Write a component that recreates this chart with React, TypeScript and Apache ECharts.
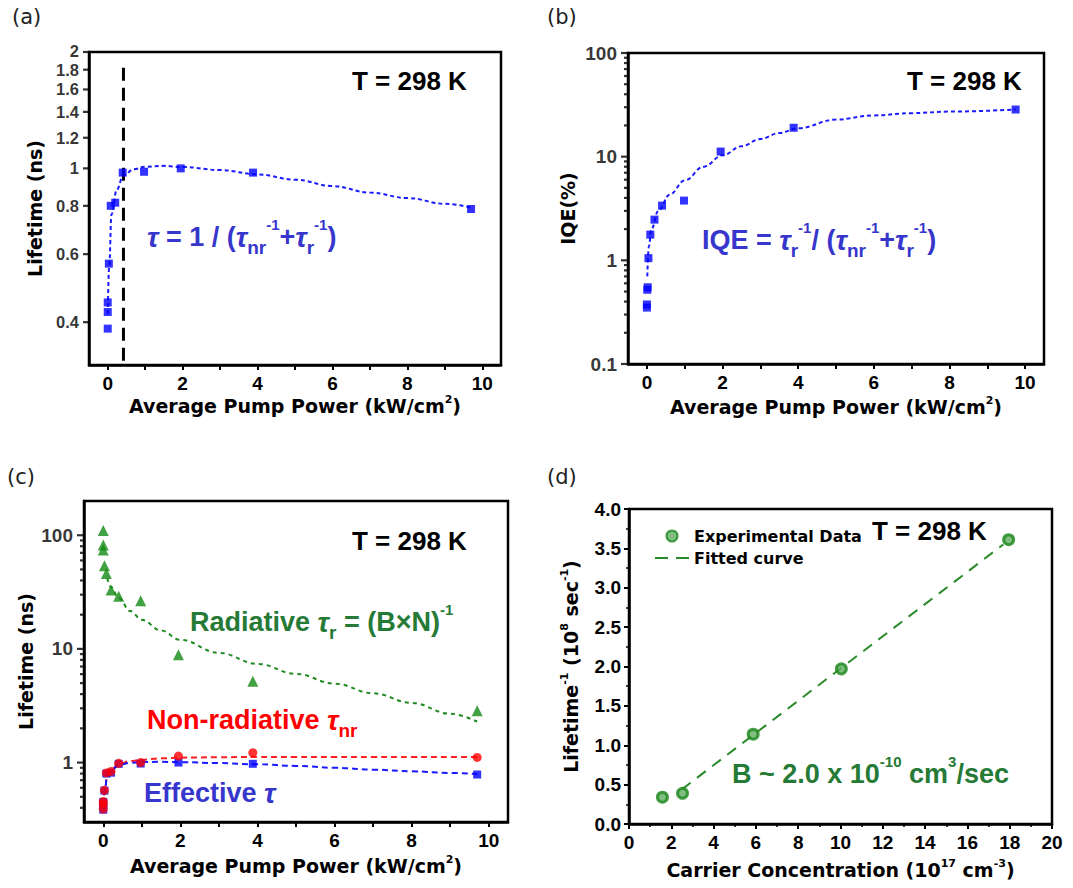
import React, { useEffect, useRef } from 'react';
import * as echarts from 'echarts';

// ---------- Panel (a): effective lifetime ----------
const tauX = [0, 0, 0, 0.03, 0.08, 0.2, 0.4, 0.97, 1.95, 3.88, 9.7];
const tauY = [0.385, 0.425, 0.45, 0.567, 0.8, 0.815, 0.975, 0.98, 1.0, 0.975, 0.785];
const tauFitX = [0, 0.04, 0.1, 0.24, 0.42, 0.7, 1.0, 1.5, 2, 3, 4, 5, 6, 7, 8, 9, 9.7];
const tauFitY = [0.42, 0.56, 0.76, 0.88, 0.96, 0.995, 1.01, 1.015, 1.008, 0.99, 0.965, 0.935, 0.9, 0.866, 0.838, 0.81, 0.792];
const vLineX = [0.42, 0.42];
const vLineY = [0.318, 1.84];
const yTicksA = [0.4, 0.6, 0.8, 1, 1.2, 1.4, 1.6, 1.8, 2];

// ---------- Panel (b): IQE ----------
const iqeX = [0, 0, 0.01, 0.02, 0.04, 0.09, 0.2, 0.4, 0.98, 1.95, 3.88, 9.75];
const iqeY = [0.35, 0.375, 0.52, 0.55, 1.05, 1.77, 2.47, 3.37, 3.77, 11.2, 19.0, 28.5];
const iqeFitX = [0.01, 0.05, 0.12, 0.3, 0.6, 1.0, 1.5, 2.0, 2.5, 3.0, 3.5, 4.0, 5.0, 6.0, 7.0, 8.0, 9.75];
const iqeFitY = [0.7, 1.35, 2.0, 3.0, 4.3, 5.9, 8.0, 10.3, 12.6, 14.8, 16.9, 18.8, 22.8, 25.0, 26.3, 27.2, 28.5];
const yMajorB = [0.1, 1, 10, 100];
const yMinorB = [0.2, 0.3, 0.4, 0.5, 0.6, 0.7, 0.8, 0.9, 2, 3, 4, 5, 6, 7, 8, 9, 20, 30, 40, 50, 60, 70, 80, 90];

// ---------- Panel (c): radiative / non-radiative / effective ----------
const radY = [110, 82, 74, 54, 46, 33, 29, 26.5, 8.9, 5.2, 2.85];
const nrY = [0.39, 0.43, 0.455, 0.57, 0.81, 0.835, 0.985, 1.0, 1.14, 1.22, 1.11];
const radFitX = [0.1, 0.2, 0.4, 0.7, 1.0, 1.5, 2, 3, 4, 5, 6, 7, 8, 9, 9.7];
const radFitY = [42, 35, 28, 21.5, 18, 14.5, 12.0, 9.23, 7.38, 6.03, 4.95, 4.07, 3.35, 2.69, 2.29];
const nrFitX = [0, 0.04, 0.1, 0.24, 0.42, 0.7, 1.0, 1.5, 2, 3, 4, 5, 6, 7, 8, 9, 9.7];
const nrFitY = [0.42, 0.56, 0.77, 0.89, 0.98, 1.03, 1.06, 1.09, 1.105, 1.115, 1.12, 1.122, 1.122, 1.122, 1.12, 1.12, 1.12];
const yMajorC = [1, 10, 100];
const yMinorC = [0.4, 0.5, 0.6, 0.7, 0.8, 0.9, 2, 3, 4, 5, 6, 7, 8, 9, 20, 30, 40, 50, 60, 70, 80, 90];

// ---------- Panel (d): 1/tau vs carrier concentration ----------
const carrierN = [1.58, 2.53, 5.87, 10.04, 17.95];
const invTau = [0.34, 0.39, 1.14, 1.97, 3.61];
const fitN = [2.5, 17.7];
const fitInv = [0.44, 3.55];

// shared x ticks for pump power
const xTicks = [0, 1, 2, 3, 4, 5, 6, 7, 8, 9, 10];
const xLabels = [0, 2, 4, 6, 8, 10];

const AX = "'Liberation Sans', Arial, Helvetica, sans-serif";
const DV = "'DejaVu Sans', Verdana, sans-serif";

const BLUE_PT = '#0000ff';
const BLUE_TXT = '#3636cc';
const RED = '#ff0000';
const GREEN_PT = '#138a13';
const GREEN_TXT = '#257a35';

const zip = (xs: number[], ys: number[]) => xs.map((x, i) => [x, ys[i]]);

const labelFont = { fontFamily: AX, fontWeight: 'bold', fontSize: 19, color: '#000' };
const titleStyle = {
  fontFamily: DV,
  fontWeight: 'bold',
  fontSize: 19,
  color: '#000',
  lineHeight: 24,
  rich: {
    sup: { fontFamily: DV, fontWeight: 'bold', fontSize: 11, color: '#000', lineHeight: 18, verticalAlign: 'top' },
  },
};

const axisLine = { onZero: false, lineStyle: { color: '#000', width: 2.5 } };

const xPump = (gi: number, nameGap: number) => ({
  gridIndex: gi,
  type: 'value',
  min: -0.5,
  max: 10.5,
  axisLine,
  axisTick: { customValues: xTicks, length: 5, lineStyle: { color: '#000', width: 2 } },
  axisLabel: { customValues: xLabels, formatter: (v: number) => String(v), margin: 9, ...labelFont },
  splitLine: { show: false },
  name: 'Average Pump Power (kW/cm{sup|2})',
  nameLocation: 'middle',
  nameGap,
  nameMoveOverlap: false,
  nameTextStyle: titleStyle,
});

const yLog = (gi: number, min: number, max: number, name: string, nameGap: number) => ({
  gridIndex: gi,
  type: 'log',
  logBase: 10,
  min,
  max,
  axisLine,
  axisTick: { show: false },
  axisLabel: { show: false },
  minorTick: { show: false },
  splitLine: { show: false },
  minorSplitLine: { show: false },
  name,
  nameLocation: 'middle',
  nameGap,
  nameMoveOverlap: false,
  nameTextStyle: titleStyle,
});

const tickSeries = (
  gi: number,
  xMin: number,
  values: number[],
  len: number,
  withLabel: boolean,
  fontSize = 19,
  topNudge = 0
) => ({
  type: 'scatter',
  xAxisIndex: gi,
  yAxisIndex: gi,
  silent: true,
  clip: false,
  symbol: 'rect',
  symbolSize: [len, 2.2],
  symbolOffset: [-len / 2, 0],
  itemStyle: { color: '#000' },
  label: withLabel
    ? {
        show: true,
        position: 'left',
        distance: 4,
        formatter: (p: any) => String(p.value[1]),
        ...labelFont,
        fontSize,
        lineHeight: fontSize - 2,
      }
    : { show: false },
  emphasis: { disabled: true },
  data: values.map((v, i) =>
    i === values.length - 1 && topNudge
      ? { value: [xMin, v], label: { offset: [0, -topNudge] } }
      : { value: [xMin, v] }
  ),
  z: 5,
});

const fitLine = (gi: number, xs: number[], ys: number[], color: string, dash: number[]) => ({
  type: 'line',
  xAxisIndex: gi,
  yAxisIndex: gi,
  data: zip(xs, ys),
  smooth: 0.4,
  smoothMonotone: 'x',
  symbol: 'none',
  silent: true,
  lineStyle: { color, width: 2, type: dash },
  z: 2,
});

const pts = (gi: number, xs: number[], ys: number[], symbol: string, size: number, color: string) => ({
  type: 'scatter',
  xAxisIndex: gi,
  yAxisIndex: gi,
  data: zip(xs, ys),
  symbol,
  symbolSize: size,
  itemStyle: { color },
  silent: true,
  z: 3,
});

const formulaRich = (color: string) => ({
  t: { fontFamily: AX, fontStyle: 'italic', fontWeight: 'bold', fontSize: 28, fill: color, lineHeight: 40 },
  sub: { fontFamily: AX, fontWeight: 'bold', fontSize: 19, fill: color, lineHeight: 22, verticalAlign: 'bottom' },
  sup: { fontFamily: AX, fontWeight: 'bold', fontSize: 15, fill: color, lineHeight: 29, verticalAlign: 'top' },
});

const richText = (x: number, y: number, text: string, color: string) => ({
  type: 'text',
  x,
  y,
  silent: true,
  style: {
    text,
    fill: color,
    fontFamily: AX,
    fontWeight: 'bold',
    fontSize: 27,
    lineHeight: 40,
    align: 'left',
    verticalAlign: 'middle',
    rich: formulaRich(color),
  },
});

const plainText = (x: number, y: number, text: string, size: number, color: string, family: string, weight: string) => ({
  type: 'text',
  x,
  y,
  silent: true,
  style: { text, fill: color, fontFamily: family, fontWeight: weight, fontSize: size, align: 'left', verticalAlign: 'middle' },
});

const option: any = {
  animation: false,
  backgroundColor: '#fff',
  grid: [
    { left: 89, top: 52, width: 412, height: 313, show: true, borderColor: '#000', borderWidth: 2.5, outerBoundsMode: 'none' },
    { left: 628, top: 53, width: 416, height: 311, show: true, borderColor: '#000', borderWidth: 2.5, outerBoundsMode: 'none' },
    { left: 84, top: 501, width: 424, height: 321, show: true, borderColor: '#000', borderWidth: 2.5, outerBoundsMode: 'none' },
    { left: 629, top: 509, width: 423, height: 315, show: true, borderColor: '#000', borderWidth: 2.5, outerBoundsMode: 'none' },
  ],
  xAxis: [
    xPump(0, 29),
    xPump(1, 31),
    xPump(2, 32),
    {
      gridIndex: 3,
      type: 'value',
      min: 0,
      max: 20,
      interval: 2,
      axisLine,
      axisTick: { length: 5, lineStyle: { color: '#000', width: 2 } },
      minorTick: { show: true, splitNumber: 2, length: 3, lineStyle: { color: '#000', width: 1.5 } },
      axisLabel: { margin: 9, ...labelFont },
      splitLine: { show: false },
      minorSplitLine: { show: false },
      name: 'Carrier Concentration (10{sup|17} cm{sup|-3})',
      nameLocation: 'middle',
      nameGap: 34,
      nameMoveOverlap: false,
      nameTextStyle: titleStyle,
    },
  ],
  yAxis: [
    yLog(0, 0.31, 2, 'Lifetime (ns)', 42),
    yLog(1, 0.1, 100, 'IQE(%)', 48),
    yLog(2, 0.3, 200, 'Lifetime (ns)', 46),
    {
      gridIndex: 3,
      type: 'value',
      min: 0,
      max: 4,
      interval: 0.5,
      axisLine,
      axisTick: { length: 5, lineStyle: { color: '#000', width: 2 } },
      minorTick: { show: true, splitNumber: 2, length: 3, lineStyle: { color: '#000', width: 1.5 } },
      axisLabel: { margin: 8, formatter: (v: number) => v.toFixed(1), ...labelFont },
      splitLine: { show: false },
      minorSplitLine: { show: false },
      name: 'Lifetime{sup|-1} (10{sup|8} sec{sup|-1})',
      nameLocation: 'middle',
      nameGap: 46,
      nameMoveOverlap: false,
      nameTextStyle: titleStyle,
    },
  ],
  legend: {
    data: [
      { name: 'Experimental Data' },
      { name: 'Fitted curve', icon: 'path://M0,0H13V2.2H0Z M21,0H34V2.2H21Z' },
    ],
    orient: 'vertical',
    left: 650,
    top: 523,
    itemWidth: 34,
    itemHeight: 11,
    itemGap: 6,
    symbolKeepAspect: true,
    textStyle: { fontFamily: DV, fontWeight: 'bold', fontSize: 16, color: '#000' },
    selectedMode: false,
  },
  series: [
    // (a)
    fitLine(0, tauFitX, tauFitY, '#1a1aff', [4, 3]),
    pts(0, tauX, tauY, 'rect', 8, BLUE_PT),
    {
      type: 'line',
      xAxisIndex: 0,
      yAxisIndex: 0,
      data: zip(vLineX, vLineY),
      symbol: 'none',
      silent: true,
      lineStyle: { color: '#000', width: 3, type: [13, 7] },
      z: 2,
    },
    tickSeries(0, -0.5, yTicksA, 6, true, 16.5, 1.5),
    // (b)
    fitLine(1, iqeFitX, iqeFitY, '#1a1aff', [4, 3]),
    pts(1, iqeX, iqeY, 'rect', 8, BLUE_PT),
    tickSeries(1, -0.5, yMajorB, 7, true),
    tickSeries(1, -0.5, yMinorB, 4, false),
    // (c)
    fitLine(2, radFitX, radFitY, '#1f8a1f', [4, 4]),
    fitLine(2, nrFitX, nrFitY, '#ff2020', [6, 4]),
    fitLine(2, tauFitX, tauFitY, '#1a1aff', [6, 4]),
    pts(2, tauX, radY, 'triangle', 11, GREEN_PT),
    pts(2, tauX, tauY, 'rect', 8, BLUE_PT),
    pts(2, tauX, nrY, 'circle', 9, RED),
    tickSeries(2, -0.5, yMajorC, 7, true),
    tickSeries(2, -0.5, yMinorC, 4, false),
    // (d)
    {
      name: 'Fitted curve',
      type: 'line',
      xAxisIndex: 3,
      yAxisIndex: 3,
      data: zip(fitN, fitInv),
      symbol: 'none',
      silent: true,
      lineStyle: { color: '#2a8a2a', width: 2, type: [11, 8] },
      itemStyle: { color: '#2a8a2a' },
      z: 2,
    },
    {
      name: 'Experimental Data',
      type: 'scatter',
      xAxisIndex: 3,
      yAxisIndex: 3,
      data: zip(carrierN, invTau),
      symbol: 'circle',
      symbolSize: 10,
      silent: true,
      itemStyle: { color: '#5fae5f', borderColor: '#1a861a', borderWidth: 3 },
      z: 3,
    },
  ],
  graphic: {
    elements: [
      plainText(12, 17, '(a)', 21, '#222', DV, 'normal'),
      plainText(547, 17, '(b)', 21, '#222', DV, 'normal'),
      plainText(7, 477, '(c)', 21, '#222', DV, 'normal'),
      plainText(547, 477, '(d)', 21, '#222', DV, 'normal'),
      plainText(352, 81, 'T = 298 K', 26, '#000', AX, 'bold'),
      plainText(907, 81, 'T = 298 K', 26, '#000', AX, 'bold'),
      plainText(352, 541, 'T = 298 K', 26, '#000', AX, 'bold'),
      plainText(872, 531, 'T = 298 K', 26, '#000', AX, 'bold'),
      richText(147, 237, '{t|τ} = 1 / ({t|τ}{sub|nr}{sup|-1}+{t|τ}{sub|r}{sup|-1})', BLUE_TXT),
      richText(702, 240, 'IQE = {t|τ}{sub|r}{sup|-1}/ ({t|τ}{sub|nr}{sup|-1}+{t|τ}{sub|r}{sup|-1})', BLUE_TXT),
      richText(190, 622, 'Radiative {t|τ}{sub|r} = (B×N){sup|-1}', GREEN_TXT),
      richText(147, 720, 'Non-radiative {t|τ}{sub|nr}', RED),
      richText(144, 793, 'Effective {t|τ}', BLUE_TXT),
      richText(732, 774, 'B ~ 2.0 x 10{sup|-10} cm{sup|3}/sec', GREEN_TXT),
    ],
  },
};

export default function App() {
  const ref = useRef<HTMLDivElement>(null);
  useEffect(() => {
    document.body.style.margin = '0';
    const chart = echarts.init(ref.current as HTMLDivElement, null, { renderer: 'svg' });
    chart.setOption(option);
    return () => chart.dispose();
  }, []);
  return <div ref={ref} style={{ width: 1073, height: 888 }} />;
}
